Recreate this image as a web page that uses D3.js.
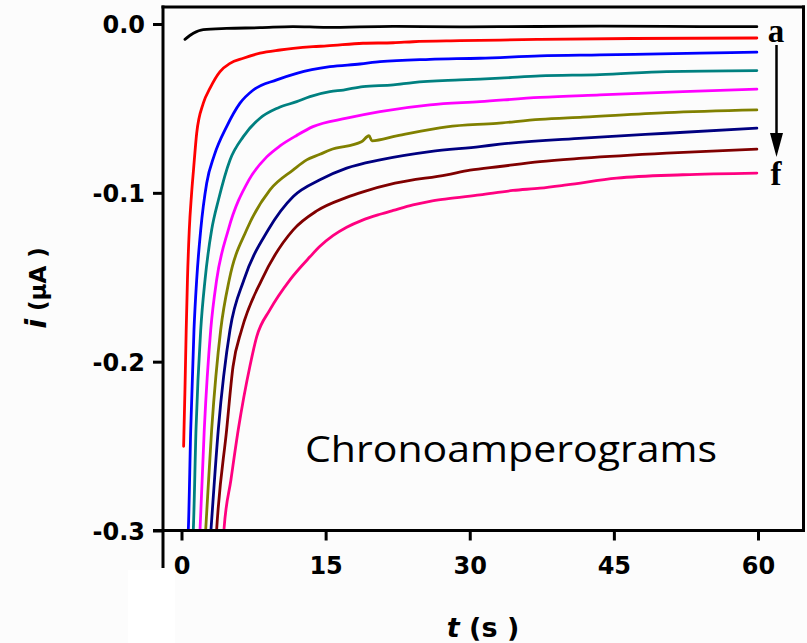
<!DOCTYPE html>
<html><head><meta charset="utf-8">
<script src="https://cdn.jsdelivr.net/npm/d3@7"></script>
<style>html,body{margin:0;padding:0;background:#fcfcfc;}svg{display:block;}</style>
</head><body>
<script>
// ---- data (t in s, i in µA) ----
const seriesNames = ["a","b","c","d","e","f","g","h","i"];
const seriesColors = ["#000000","#ff0000","#0000ff","#008080","#ff00ff","#808000","#000080","#800000","#ff0080"];
const xTicks = [0,15,30,45,60];
const yTicks = [0,-0.1,-0.2,-0.3];

const curveA = [[0.36,-0.0091],[1.23,-0.0055],[2.27,-0.0033],[4.70,-0.0026],[8.17,-0.0022],[11.60,-0.0015],[15.11,-0.0020],[22.01,-0.0014],[28.98,-0.0017],[33.14,-0.0016],[43.55,-0.0013],[53.95,-0.0015],[59.88,-0.0016]];
const curveB = [[0.22,-0.2501],[0.36,-0.2166],[0.49,-0.1811],[0.62,-0.1515],[0.81,-0.1219],[1.04,-0.1012],[1.25,-0.0864],[1.58,-0.0647],[2.27,-0.0469],[2.97,-0.0380],[4.01,-0.0282],[5.05,-0.0233],[6.43,-0.0203],[8.17,-0.0173],[10.25,-0.0154],[11.63,-0.0144],[13.68,-0.0134],[15.11,-0.0130],[18.89,-0.0114],[22.04,-0.0111],[24.09,-0.0105],[28.98,-0.0099],[33.14,-0.0095],[37.30,-0.0091],[46.98,-0.0086],[59.88,-0.0083]];
const curveC = [[0.66,-0.305],[0.71,-0.2994],[0.96,-0.2402],[1.30,-0.1811],[1.58,-0.1515],[2.00,-0.1219],[2.62,-0.0943],[3.40,-0.0780],[4.70,-0.0608],[6.09,-0.0469],[7.47,-0.0391],[9.91,-0.0331],[11.99,-0.0292],[15.45,-0.0253],[18.57,-0.0237],[20.66,-0.0223],[25.86,-0.0209],[31.06,-0.0203],[37.31,-0.0189],[43.55,-0.0183],[53.95,-0.0173],[59.88,-0.0167]];
const curveD = [[1.18,-0.305],[1.23,-0.2994],[1.51,-0.2402],[2.00,-0.1811],[2.45,-0.1515],[3.14,-0.1219],[3.85,-0.1041],[5.05,-0.0805],[6.43,-0.0667],[8.17,-0.0558],[10.04,-0.0497],[11.99,-0.0460],[13.37,-0.0430],[15.45,-0.0401],[16.84,-0.0391],[18.89,-0.0371],[22.04,-0.0361],[24.09,-0.0347],[28.98,-0.0331],[33.14,-0.0321],[37.31,-0.0307],[43.55,-0.0300],[50.49,-0.0282],[59.88,-0.0276]];
const curveE = [[1.88,-0.305],[1.93,-0.2994],[2.37,-0.2402],[3.04,-0.1811],[3.66,-0.1515],[4.87,-0.1219],[7.02,-0.0923],[8.87,-0.0787],[10.25,-0.0722],[11.99,-0.0660],[13.68,-0.0608],[17.19,-0.0558],[20.66,-0.0519],[25.86,-0.0479],[31.06,-0.0460],[37.31,-0.0435],[43.55,-0.0420],[52.19,-0.0401],[59.88,-0.0386]];
const curveF = [[2.46,-0.305],[2.52,-0.2994],[3.14,-0.2402],[4.08,-0.1811],[4.97,-0.1515],[6.78,-0.1219],[9.21,-0.0982],[11.63,-0.0864],[13.03,-0.0805],[14.41,-0.0772],[15.45,-0.0746],[18.73,-0.0698],[19.51,-0.0662],[19.82,-0.0692],[22.39,-0.0663],[27.60,-0.0609],[32.80,-0.0588],[37.31,-0.0565],[41.78,-0.0552],[50.49,-0.0525],[59.88,-0.0509]];
const curveG = [[3.00,-0.305],[3.07,-0.2994],[3.83,-0.2402],[5.05,-0.1811],[6.50,-0.1515],[9.03,-0.1219],[11.63,-0.1022],[14.41,-0.0923],[17.19,-0.0854],[20.66,-0.0805],[25.86,-0.0756],[31.06,-0.0726],[33.14,-0.0712],[41.78,-0.0676],[50.49,-0.0647],[59.88,-0.0617]];
const curveH = [[3.60,-0.305],[3.66,-0.2994],[4.70,-0.2402],[5.36,-0.2030],[6.26,-0.1811],[8.35,-0.1515],[11.63,-0.1219],[14.07,-0.1107],[17.19,-0.1027],[18.89,-0.0994],[22.22,-0.0943],[27.60,-0.0893],[30.02,-0.0866],[33.14,-0.0844],[37.31,-0.0815],[41.78,-0.0795],[50.49,-0.0765],[59.88,-0.0741]];
const curveI = [[4.35,-0.305],[4.42,-0.2994],[5.15,-0.2698],[5.91,-0.2402],[7.13,-0.2024],[7.83,-0.1852],[9.21,-0.1692],[11.29,-0.1515],[13.37,-0.1379],[14.41,-0.1317],[15.76,-0.1254],[17.19,-0.1204],[18.78,-0.1163],[20.66,-0.1127],[22.04,-0.1104],[24.09,-0.1071],[25.86,-0.1050],[27.60,-0.1036],[31.06,-0.1012],[34.49,-0.0986],[37.31,-0.0972],[40.08,-0.0953],[45.29,-0.0913],[52.19,-0.0893],[59.88,-0.0883]];
const curves = [curveA,curveB,curveC,curveD,curveE,curveF,curveG,curveH,curveI];

// ---- layout ----
const W = 807, H = 643;
const svg = d3.select("body").append("svg").attr("width", W).attr("height", H);
const x = d3.scaleLinear().domain([0,60]).range([181.5,758]);
const y = d3.scaleLinear().domain([0,-0.3]).range([24,530.5]);
const tickFont = "'DejaVu Sans', sans-serif";

svg.append("rect").attr("x",128).attr("y",570).attr("width",47).attr("height",73).attr("fill","#ffffff");

const defs = svg.append("defs");
defs.append("clipPath").attr("id","plotclip").append("rect")
  .attr("x",163).attr("y",7).attr("width",641).attr("height",523.5);

// curves
const line = d3.line().x(d=>x(d[0])).y(d=>y(d[1])).curve(d3.curveMonotoneX);
const g = svg.append("g").attr("clip-path","url(#plotclip)");
curves.forEach((c,i)=>{
  g.append("path").datum(c).attr("d",line).attr("fill","none")
   .attr("stroke",seriesColors[i]).attr("stroke-width",2.8)
   .attr("stroke-linejoin","round").attr("stroke-linecap","round");
});

// frame and axes
const frame = svg.append("g").attr("stroke","#000").attr("stroke-width",3).attr("fill","none");
frame.append("line").attr("x1",163).attr("x2",163).attr("y1",5.5).attr("y2",568);
frame.append("line").attr("x1",153).attr("x2",805).attr("y1",530.5).attr("y2",530.5);
frame.append("line").attr("x1",161.5).attr("x2",805).attr("y1",7).attr("y2",7);
frame.append("line").attr("x1",803.5).attr("x2",803.5).attr("y1",5.5).attr("y2",532);

const yAxis = d3.axisLeft(y).tickValues(yTicks).tickSize(10).tickPadding(8)
  .tickFormat(d=>d.toFixed(1));
const ya = svg.append("g").attr("transform","translate(163,0)").call(yAxis);
ya.select(".domain").remove();
ya.selectAll(".tick line").attr("stroke","#000").attr("stroke-width",3);
ya.selectAll(".tick text").attr("font-family",tickFont).attr("font-weight","bold")
  .attr("font-size",24).attr("fill","#000").attr("dy","0.36em");

const xAxis = d3.axisBottom(x).tickValues(xTicks).tickSize(10).tickPadding(16)
  .tickFormat(d=>String(d));
const xa = svg.append("g").attr("transform","translate(0,530.5)").call(xAxis);
xa.select(".domain").remove();
xa.selectAll(".tick line").attr("stroke","#000").attr("stroke-width",3);
xa.selectAll(".tick text").attr("font-family",tickFont).attr("font-weight","bold")
  .attr("font-size",24).attr("fill","#000");

// axis titles
const xt = svg.append("text").attr("x",483).attr("y",637).attr("text-anchor","middle")
  .attr("font-family",tickFont).attr("font-weight","bold").attr("font-size",27).attr("fill","#000");
xt.append("tspan").attr("font-style","italic").text("t");
xt.append("tspan").text(" (s )");

const yt = svg.append("text").attr("transform","translate(46,288) rotate(-90)").attr("text-anchor","middle")
  .attr("font-family",tickFont).attr("font-weight","bold").attr("fill","#000");
yt.append("tspan").attr("font-style","italic").attr("font-size",29).text("i");
yt.append("tspan").attr("font-size",23).text(" (µA )");

// annotation
svg.append("text").attr("x",305).attr("y",462).attr("font-family","'Open Sans', sans-serif")
  .attr("font-size",37).attr("fill","#000").attr("textLength",412).attr("lengthAdjust","spacingAndGlyphs")
  .text("Chronoamperograms");

svg.append("text").attr("x",776).attr("y",42).attr("text-anchor","middle")
  .attr("font-family","'Liberation Serif', serif").attr("font-weight","bold").attr("font-size",33)
  .attr("fill","#000").text(seriesNames[0]);
svg.append("text").attr("x",776).attr("y",185).attr("text-anchor","middle")
  .attr("font-family","'Liberation Serif', serif").attr("font-weight","bold").attr("font-size",33)
  .attr("fill","#000").text(seriesNames[5]);
svg.append("line").attr("x1",776.5).attr("x2",776.5).attr("y1",45).attr("y2",138)
  .attr("stroke","#000").attr("stroke-width",2.5);
svg.append("path").attr("d","M770,133 L783,133 L776.5,157 Z").attr("fill","#000");
</script>
</body></html>
